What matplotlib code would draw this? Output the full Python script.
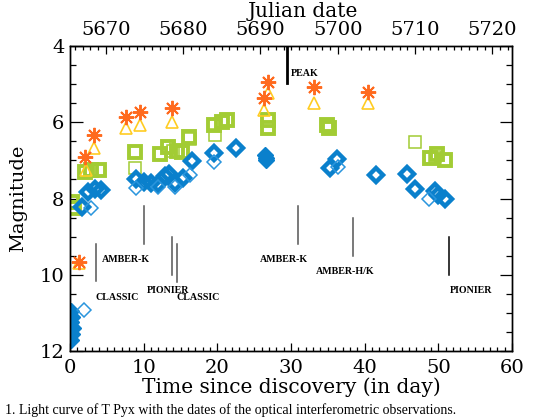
import numpy as np
import matplotlib
matplotlib.use("Agg")
import matplotlib.pyplot as plt
from matplotlib.ticker import MultipleLocator

# light curve, time since discovery (day) vs magnitude
ast_day = [1.2, 2.1, 3.2, 7.6, 9.5, 13.8, 26.3, 26.9, 33.1, 40.5]
ast_mag = [9.67, 6.9, 6.34, 5.86, 5.74, 5.62, 5.37, 4.94, 5.07, 5.2]

tri_day = [1.2, 2.2, 3.3, 7.6, 9.5, 13.8, 26.3, 26.9, 33.1, 40.5]
tri_mag = [9.7, 7.25, 6.68, 6.16, 6.07, 5.99, 5.68, 5.24, 5.49, 5.5]

gsq_day = [0.3, 0.6, 2.0, 2.8, 3.9, 8.8, 12.2, 13.3, 14.5, 15.2, 16.1,
           19.5, 20.6, 21.3, 26.9, 26.9, 34.9, 35.1, 48.9, 49.8, 50.9]
gsq_mag = [8.1, 8.25, 7.3, 7.25, 7.25, 6.77, 6.82, 6.65, 6.75, 6.77, 6.38,
           6.07, 5.99, 5.94, 5.95, 6.15, 6.07, 6.15, 6.95, 6.82, 6.99]

gthin_day = [8.8, 14.0, 16.3, 19.7, 46.8, 49.6]
gthin_mag = [7.21, 6.75, 6.45, 6.34, 6.51, 6.9]

bthick_day = [1.6, 2.5, 3.4, 4.2, 9.0, 10.0, 11.0, 11.9, 12.9, 13.4, 14.3,
              15.4, 16.5, 19.5, 22.5, 35.3, 36.2, 41.6, 45.7, 46.8, 49.5,
              49.9, 50.9]
bthick_mag = [8.22, 7.82, 7.75, 7.78, 7.5, 7.58, 7.6, 7.62, 7.4, 7.35, 7.6,
              7.45, 7.02, 6.8, 6.67, 7.2, 6.97, 7.38, 7.37, 7.75, 7.8,
              7.9, 8.0]

bfill_day = [0.2, 0.3, 0.2, 0.4, 0.3, 0.2, 26.5, 26.6, 26.6]
bfill_mag = [10.95, 11.1, 11.25, 11.4, 11.55, 11.7, 6.85, 6.95, 7.0]

bthin_day = [1.9, 2.9, 9.0, 12.0, 14.3, 16.3, 19.5, 36.4, 48.7]
bthin_mag = [10.93, 8.24, 7.72, 7.7, 7.7, 7.39, 7.04, 7.17, 8.0]

# observation dates: (day, mag from, mag to, label, label x, label y, align, colour)
OBS = [
    (3.5, 9.2, 10.17, "CLASSIC", 3.5, 10.6, "left", "#555555"),
    (10.1, 8.2, 9.2, "AMBER-K", 7.56, 9.6, "center", "#555555"),
    (13.8, 9.0, 10.0, "PIONIER", 13.37, 10.4, "center", "#555555"),
    (14.5, 9.2, 10.2, "CLASSIC", 14.5, 10.6, "left", "#555555"),
    (31.0, 8.2, 9.2, "AMBER-K", 29.05, 9.6, "center", "#555555"),
    (38.4, 8.5, 9.5, "AMBER-H/K", 37.3, 9.92, "center", "#555555"),
    (51.5, 9.0, 10.0, "PIONIER", 51.5, 10.4, "left", "black"),
]
PEAK_DAY = 29.5

BLUE = "#0a80cc"
GREEN = "#a2cc34"
YELLOW = "#ffcc22"
ORANGE = "#ff6a1e"

plt.rcParams["font.family"] = "DejaVu Serif"

fig = plt.figure(figsize=(5.48, 4.19), dpi=100)
ax = fig.add_axes([70 / 548, 1 - 351 / 419, 442 / 548, 305 / 419])

ax.plot(gsq_day, gsq_mag, "s", ms=8, mfc="none", mec=GREEN, mew=2.8, ls="none")
ax.plot(gthin_day, gthin_mag, "s", ms=9, mfc="none", mec=GREEN, mew=1.1, ls="none")
ax.plot(bfill_day, bfill_mag, "D", ms=8, mfc=BLUE, mec=BLUE, mew=1, ls="none")
ax.plot(bthick_day, bthick_mag, "D", ms=7, mfc="none", mec=BLUE, mew=3.2, ls="none")
ax.plot(bthin_day, bthin_mag, "D", ms=7.5, mfc="none", mec="#2a95dd", mew=1.1, ls="none")
ax.plot(tri_day, tri_mag, "^", ms=9, mfc="none", mec=YELLOW, mew=1.2, ls="none")
ax.plot(ast_day, ast_mag, marker=(8, 2, 0), ms=11, mec=ORANGE, mew=1.4, ls="none")

ann = dict(fontsize=7.2, fontweight="bold", family="Liberation Serif", va="center")
for day, m0, m1, label, tx, ty, ha, col in OBS:
    ax.plot([day, day], [m0, m1], color=col, lw=1.1)
    ax.text(tx, ty, label, ha=ha, **ann)
ax.plot([PEAK_DAY, PEAK_DAY], [4.0, 4.97], color="black", lw=2)
ax.text(PEAK_DAY + 0.45, 4.72, "PEAK", ha="left", **ann)

ax.set_xlim(0, 60)
ax.set_ylim(12, 4)
ax.xaxis.set_major_locator(MultipleLocator(10))
ax.xaxis.set_minor_locator(MultipleLocator(1))
ax.yaxis.set_major_locator(MultipleLocator(2))
ax.yaxis.set_minor_locator(MultipleLocator(0.5))
ax.tick_params(which="both", direction="in", top=False, right=True,
               labelsize=14, width=0.9)
ax.tick_params(axis="x", which="major", length=6, pad=6)
ax.tick_params(axis="x", which="minor", length=3)
ax.tick_params(axis="y", which="major", length=9, pad=4)
ax.tick_params(axis="y", which="minor", length=4)
ax.set_xlabel("Time since discovery (in day)", fontsize=14.5, labelpad=0)
ax.set_ylabel("Magnitude", fontsize=14, labelpad=9)

top = ax.twiny()
top.set_xlim(5665.38, 5722.54)
top.xaxis.set_major_locator(MultipleLocator(10))
top.xaxis.set_minor_locator(MultipleLocator(1))
top.tick_params(which="both", direction="in", labelsize=14, width=0.9)
top.tick_params(which="major", length=6, pad=5)
top.tick_params(which="minor", length=3)
top.set_xlabel("Julian date", fontsize=14.5, labelpad=2)
top.xaxis.set_label_coords(0.527, 1.095)

for a in (ax, top):
    for s in a.spines.values():
        s.set_linewidth(1.0)

fig.text(0.01, 0.004, "1. Light curve of T Pyx with the dates of the optical "
         "interferometric observations.", fontsize=10, va="bottom", ha="left",
         family="Liberation Serif")

fig.savefig("out.png", dpi=100)
